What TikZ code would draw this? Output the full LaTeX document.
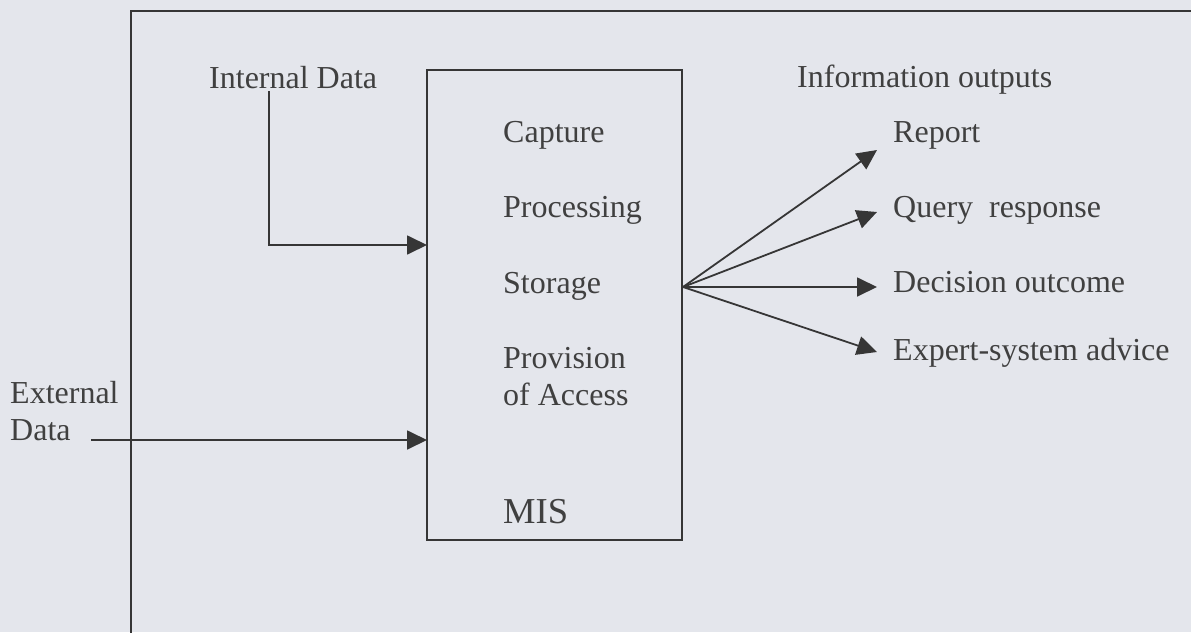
\documentclass[tikz,border=0pt]{standalone}
\usepackage{fontspec}
\setmainfont{Liberation Serif}
\usetikzlibrary{arrows.meta}
\definecolor{paper}{HTML}{E4E6EC}
\definecolor{ink}{HTML}{363636}
\definecolor{txt}{HTML}{404040}
\begin{document}
\begin{tikzpicture}[x=1pt,y=-1pt,
  lbl/.style={anchor=base west, inner sep=0pt, text=txt, font=\fontsize{32}{37}\selectfont},
  arr/.style={draw=ink, line width=1.8pt, -{Triangle[length=20pt,width=19pt]}},
  frameline/.style={draw=ink, line width=1.8pt}]
% paper and page size
\fill[paper] (0,0) rectangle (1191,632);
\useasboundingbox (0,0) rectangle (1191,632);

% outer frame (open to the right and bottom)
\draw[frameline] (131,640) -- (131,11) -- (1200,11);

% MIS box
\node[frameline, rectangle, minimum width=255pt, minimum height=470pt, inner sep=0pt] (mis) at (554.5,305) {};

% labels
\node[lbl] (intl) at (209,88) {Internal Data};
\node[lbl] (cap)  at (503,142) {Capture};
\node[lbl] (proc) at (503,217) {Processing};
\node[lbl] (stor) at (503,293) {Storage};
\node[lbl] (prov) at (503,368) {Provision};
\node[lbl] (acc)  at (503,405) {of Access};
\node[lbl, font=\fontsize{36.5}{40}\selectfont] (mislbl) at (503,523) {MIS};
\node[lbl] (ext1) at (10,403) {External};
\node[lbl] (ext2) at (10,440) {Data};
\node[lbl] (outs) at (797,87) {Information outputs};
\node[lbl] (rep)  at (893,142) {Report};
\node[lbl] (qry)  at (893,217) {Query\ \ response};
\node[lbl] (dec)  at (893,292) {Decision outcome};
\node[lbl] (expt) at (893,360) {Expert-system advice};

% connector end points
\coordinate (inS)  at (269,91);
\coordinate (inE)  at (427,245);
\coordinate (exS)  at (91,440);
\coordinate (exE)  at (427,440);
\coordinate (hub)  at (683,287);
\coordinate (tRep) at (877,150);
\coordinate (tQry) at (877,212);
\coordinate (tDec) at (877,287);
\coordinate (tExp) at (877,352);

% inputs
\draw[arr] (inS) |- (inE);
\draw[arr] (exS) -- (exE);

% outputs
\draw[arr] (hub) -- (tRep);
\draw[arr] (hub) -- (tQry);
\draw[arr] (hub) -- (tDec);
\draw[arr] (hub) -- (tExp);
\end{tikzpicture}
\end{document}
